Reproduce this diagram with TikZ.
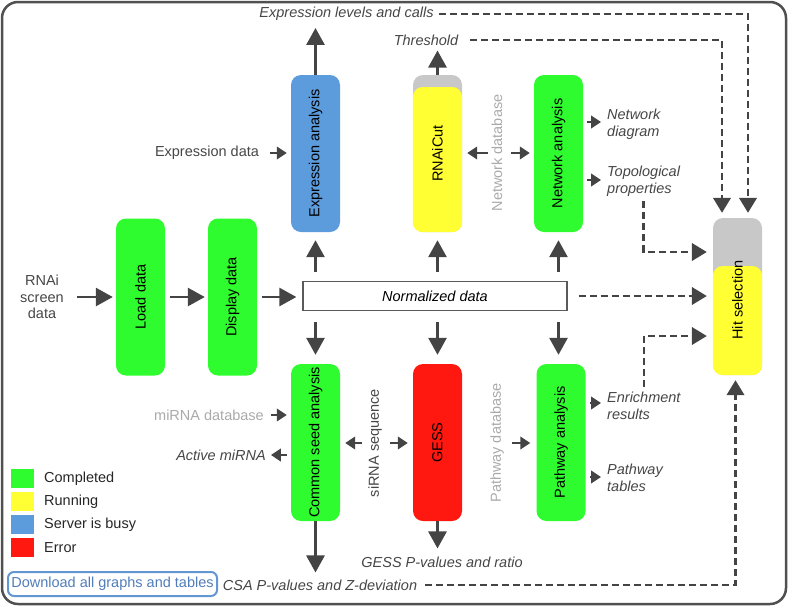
\documentclass[tikz,border=0pt]{standalone}
\usepackage{fontspec}
\setmainfont{Liberation Sans}
\usetikzlibrary{arrows.meta}
\definecolor{cgreen}{RGB}{46,252,46}
\definecolor{cyellow}{RGB}{255,255,51}
\definecolor{cblue}{RGB}{92,155,220}
\definecolor{cred}{RGB}{255,24,16}
\definecolor{cgray}{RGB}{200,200,200}
\definecolor{arc}{RGB}{68,68,68}
\definecolor{lblc}{RGB}{70,70,70}
\definecolor{dbc}{RGB}{170,170,170}
\definecolor{normc}{RGB}{90,90,90}
\definecolor{bordc}{RGB}{80,80,80}
\definecolor{dlb}{RGB}{100,150,210}
\definecolor{dlt}{RGB}{80,125,185}
\newcommand\myfs{\fontsize{14.5}{16.8}\selectfont}
\begin{document}
\begin{tikzpicture}[x=1pt,y=-1pt,
  box/.style={rounded corners=10pt, minimum width=49pt, minimum height=157pt, inner sep=0pt, draw=none},
  boxtxt/.style={rotate=90, font=\myfs, text=black, inner sep=0pt},
  lbl/.style={font=\myfs, text=lblc, inner sep=0pt},
  ilbl/.style={font=\myfs\itshape, text=lblc, inner sep=0pt},
  dbl/.style={font=\myfs, text=dbc, inner sep=0pt, rotate=90},
  legsq/.style={minimum width=23pt, minimum height=19pt, inner sep=0pt},
  legtxt/.style={font=\myfs, text=black!85, inner sep=0pt, anchor=west},
  big/.style={draw=arc, line width=2.8pt, -{Triangle[length=17pt,width=18pt]}},
  small/.style={draw=arc, line width=2.7pt, -{Triangle[length=10pt,width=12.5pt]}},
  dashar/.style={draw=arc, line width=2.5pt, dash pattern=on 7pt off 4pt, -{Triangle[length=15pt,width=17.5pt]}}
]
\useasboundingbox (0,0) rectangle (788,606);
\draw[line width=2.5pt, draw=bordc, rounded corners=16pt] (2,2) rectangle (786,604);

% process boxes
\node[box, fill=cgreen] (load) at (140.5,297) {};
\node[boxtxt] (loadT) at (load) {Load data};
\node[box, fill=cgreen] (disp) at (232.5,297) {};
\node[boxtxt] (dispT) at (disp) {Display data};
\node[draw=normc, line width=1.3pt, minimum width=264pt, minimum height=29pt, inner sep=0pt, font=\myfs\itshape, text=black] (norm) at (435,296) {Normalized data};
\node[box, fill=cblue] (exp) at (315.5,153.5) {};
\node[boxtxt] (expT) at (exp) {Expression analysis};
\node[box, fill=cgray] (rc) at (437.5,153.5) {};
\fill[cyellow, rounded corners=10pt] (rc.west |- 0,87) rectangle (rc.south east);
\node[boxtxt] (rcT) at (rc) {RNAiCut};
\node[box, fill=cgreen] (net) at (558.5,153.5) {};
\node[boxtxt] (netT) at (net) {Network analysis};
\node[box, fill=cgreen] (csa) at (315.5,442.5) {};
\node[boxtxt] (csaT) at (csa) {Common seed analysis};
\node[box, fill=cred] (gess) at (437.5,442.5) {};
\node[boxtxt] (gessT) at (gess) {GESS};
\node[box, fill=cgreen] (path) at (561,442.5) {};
\node[boxtxt] (pathT) at (path) {Pathway analysis};
\node[box, fill=cgray] (hit) at (737.5,296.5) {};
\fill[cyellow, rounded corners=10pt] (hit.west |- 0,266) rectangle (hit.south east);
\node[boxtxt] (hitT) at (737.5,300) {Hit selection};

% labels
\node[lbl, align=center] (rnaiT) at (42,297) {RNAi\\screen\\data};
\node[ilbl] (explev) at (346.5,14) {Expression levels and calls};
\node[ilbl] (thr) at (426,40) {Threshold};
\node[lbl] (exd) at (207,153) {Expression data};
\node[dbl] (ndb) at (497,153) {Network database};
\node[ilbl, align=left, anchor=west] (nd) at (607,124) {Network\\diagram};
\node[ilbl, align=left, anchor=west] (topo) at (607,181) {Topological\\properties};
\node[lbl, text=dbc] (mdb) at (209,415) {miRNA database};
\node[ilbl] (amir) at (221,455) {Active miRNA};
\node[lbl, rotate=90] (sirna) at (375,443) {siRNA sequence};
\node[dbl] (pdb) at (497,443) {Pathway database};
\node[ilbl, align=left, anchor=west] (enr) at (607,406) {Enrichment\\results};
\node[ilbl, align=left, anchor=west] (ptab) at (607,478) {Pathway\\tables};
\node[ilbl] (gessp) at (442,562) {GESS P-values and ratio};
\node[ilbl] (csap) at (320,585) {CSA P-values and Z-deviation};

% legend
\node[legsq, fill=cgreen] (lg1) at (22.5,478.5) {};
\node[legsq, fill=cyellow] (lg2) at (22.5,501.5) {};
\node[legsq, fill=cblue] (lg3) at (22.5,524.5) {};
\node[legsq, fill=cred] (lg4) at (22.5,547.5) {};
\node[legtxt] (lt1) at (44,479) {Completed};
\node[legtxt] (lt2) at (44,502) {Running};
\node[legtxt] (lt3) at (44,525) {Server is busy};
\node[legtxt] (lt4) at (44,548) {Error};
\node[draw=dlb, line width=2pt, rounded corners=6pt, minimum width=209pt, minimum height=24pt, inner sep=0pt, font=\myfs, text=dlt] (dl) at (112.5,584) {Download all graphs and tables};

% main flow
\draw[big, shorten <=13pt, shorten >=3pt] (rnaiT.east) -- (rnaiT.east -| load.west);
\draw[big, shorten <=5pt, shorten >=3pt] (load.east) -- (disp.west);
\draw[big, shorten <=5pt, shorten >=6pt] (disp.east) -- (disp.east -| norm.west);
\draw[big, shorten <=9pt, shorten >=8pt] (norm.north -| exp.south) -- (exp.south);
\draw[big, shorten <=9pt, shorten >=8pt] (norm.north -| rc.south) -- (rc.south);
\draw[big, shorten <=9pt, shorten >=8pt] (norm.north -| net.south) -- (net.south);
\draw[big, shorten <=11pt, shorten >=9pt] (norm.south -| csa.north) -- (csa.north);
\draw[big, shorten <=11pt, shorten >=9pt] (norm.south -| gess.north) -- (gess.north);
\draw[big, shorten <=11pt, shorten >=9pt] (norm.south -| net.south) -- (path.north -| net.south);
\draw[big, shorten >=7pt] (exp.north) -- (exp.north |- explev.south);
\draw[big, shorten >=5pt] (rc.north) -- (rc.north |- thr.south);
\draw[big, shorten >=7pt] (csa.south) -- (csa.south |- csap.north);
\draw[big, shorten >=8pt] (gess.south) -- (gess.south |- gessp.north);

% side inputs/outputs
\draw[small, shorten <=11pt, shorten >=4pt] (exd.east) -- (exd.east -| exp.west);
\draw[small, shorten <=9pt, shorten >=5pt] (ndb.center) -- (ndb.center -| rc.east);
\draw[small, shorten <=14pt, shorten >=4pt] (ndb.center) -- (ndb.center -| net.west);
\draw[small, shorten <=4pt, shorten >=6pt] ([yshift=2pt]nd.west -| net.east) -- ([yshift=2pt]nd.west);
\draw[small, shorten <=4pt, shorten >=6pt] ([yshift=1pt]topo.west -| net.east) -- ([yshift=1pt]topo.west);
\draw[small, shorten <=7pt, shorten >=4pt] (mdb.east) -- (mdb.east -| csa.west);
\draw[small, shorten <=4pt, shorten >=5pt] (amir.east -| csa.west) -- (amir.east);
\draw[small, shorten <=13pt, shorten >=5pt] (sirna.center) -- (sirna.center -| csa.east);
\draw[small, shorten <=15pt, shorten >=5pt] (sirna.center) -- (sirna.center -| gess.west);
\draw[small, shorten <=15pt, shorten >=6pt] (pdb.center) -- (pdb.center -| path.west);
\draw[small, shorten <=4pt, shorten >=6pt] ([yshift=3pt]enr.west -| path.east) -- ([yshift=3pt]enr.west);
\draw[small, shorten <=4pt, shorten >=6pt] ([yshift=1pt]ptab.west -| path.east) -- ([yshift=1pt]ptab.west);

% dashed to hit selection
\draw[dashar, shorten <=5pt, shorten >=5pt] (explev.east) -| ([xshift=10.5pt]hit.north);
\draw[dashar, shorten <=12pt, shorten >=5pt] (thr.east) -| ([xshift=-15.5pt]hit.north);
\draw[dashar, shorten <=5pt, shorten >=6pt] (topo.south) |- ([yshift=44.5pt]hit.west);
\draw[dashar, shorten <=11pt, shorten >=6pt] (norm.east) -- (norm.east -| hit.west);
\draw[dashar, shorten <=5pt, shorten >=6pt] (enr.north) |- ([yshift=-39.5pt]hit.west);
\draw[dashar, shorten <=8pt, shorten >=5pt] (csap.east) -| ([xshift=-2pt]hit.south);
\end{tikzpicture}
\end{document}
